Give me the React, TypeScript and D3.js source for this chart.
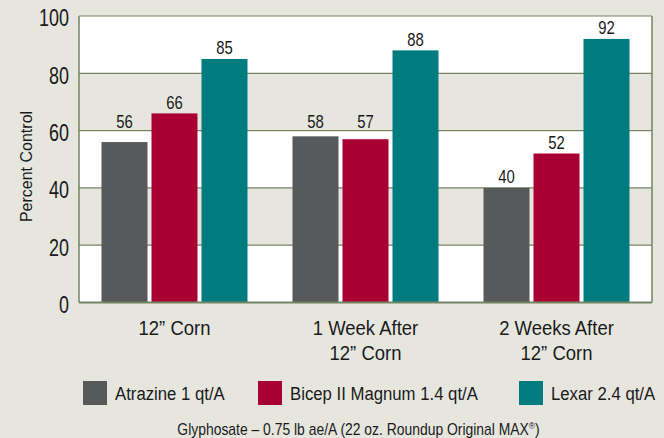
import React from "react";
import * as d3 from "d3";

const categories: string[][] = [["12\u201D Corn"], ["1 Week After", "12\u201D Corn"], ["2 Weeks After", "12\u201D Corn"]];
const categoryKeys = ["c1", "c2", "c3"];
const seriesNames = ["Atrazine 1 qt/A", "Bicep II Magnum 1.4 qt/A", "Lexar 2.4 qt/A"];
const seriesColors = ["#58595b", "#a90034", "#007b80"];
const atrazine = [56, 58, 40];
const bicep = [66, 57, 52];
const lexar = [85, 88, 92];
const yTicks = [0, 20, 40, 60, 80, 100];
const footnote = "Glyphosate \u2013 0.75 lb ae/A (22 oz. Roundup Original MAX";

const W = 664;
const H = 438;
const FONT = "'Liberation Sans', Arial, Helvetica, sans-serif";
const INK = "#1a1a1a";

type CTextProps = {
  x: number; y: number; sx?: number; size: number; anchor?: "start" | "middle" | "end";
  children?: React.ReactNode;
};
function CText({ x, y, sx = 1, size, anchor = "start", children }: CTextProps) {
  return (
    <text transform={`translate(${x},${y}) scale(${sx},1)`} fontSize={size} textAnchor={anchor} fill={INK}>
      {children}
    </text>
  );
}

export default function App() {
  const left = 79, right = 652, top = 16, bottom = 302.5;
  const values = [atrazine, bicep, lexar];
  const x0 = d3.scaleBand<string>().domain(categoryKeys).range([left, right]).padding(0);
  const x1 = d3.scaleBand<string>().domain(seriesNames).range([0, x0.bandwidth()]).paddingInner(0.08).paddingOuter(0.45);
  const y = d3.scaleLinear().domain([0, 100]).range([bottom, top]);
  const bgColor = "#e6e6df";
  const gridColor = "#738463";

  const gridYs = yTicks.filter(t => t > 0 && t < 100).map(t => y(t));
  const labelCap = 12.5;
  const labelBaseline = (v: number) => {
    let b = y(v) - 4.5;
    for (const g of gridYs) {
      if (g > b - labelCap - 1 && g < b + 2) b = g - 3;
    }
    return b;
  };

  const bands = [] as React.ReactElement[];
  for (let i = 0; i < yTicks.length - 1; i++) {
    const a = yTicks[i], b = yTicks[i + 1];
    const fill = i % 2 === 0 ? "#ffffff" : bgColor;
    bands.push(<rect key={"b" + i} x={left} y={y(b)} width={right - left} height={y(a) - y(b)} fill={fill} />);
  }

  const legendX = [83, 258, 519];

  return (
    <svg width={W} height={H} style={{ position: "absolute", left: 0, top: 0, display: "block" }} fontFamily={FONT}>
      <rect x={0} y={0} width={W} height={H} fill={bgColor} />
      {bands}
      {yTicks.filter(t => t > 0).map(t => (
        <line key={"g" + t} x1={left} x2={right} y1={y(t)} y2={y(t)} stroke={gridColor} strokeWidth={1.2} />
      ))}
      {categoryKeys.map((k, ci) =>
        seriesNames.map((s, si) => {
          const v = values[si][ci];
          const bx = (x0(k) as number) + (x1(s) as number);
          return (
            <g key={k + s}>
              <rect x={bx} y={y(v)} width={x1.bandwidth()} height={y(0) - y(v)} fill={seriesColors[si]} />
              <CText x={bx + x1.bandwidth() / 2} y={labelBaseline(v)} sx={0.85} size={17.5} anchor="middle">{v}</CText>
            </g>
          );
        })
      )}
      <line x1={left} x2={left} y1={top} y2={bottom} stroke={gridColor} strokeWidth={1.5} />
      <line x1={right} x2={right} y1={top} y2={bottom} stroke={gridColor} strokeWidth={1.5} />
      <line x1={left} x2={right} y1={bottom} y2={bottom} stroke={gridColor} strokeWidth={2.2} />
      {yTicks.map(t => (
        <CText key={"t" + t} x={69} y={y(t) + 10.3} sx={0.78} size={23} anchor="end">{t}</CText>
      ))}
      <text transform={`translate(32,166.5) rotate(-90)`} textAnchor="middle" fontSize={16} fill={INK}>Percent Control</text>
      {categoryKeys.map((k, ci) =>
        categories[ci].map((line, li) => (
          <CText key={"x" + k + li} x={(x0(k) as number) + x0.bandwidth() / 2} y={334.7 + li * 25.5} sx={0.88} size={21} anchor="middle">{line}</CText>
        ))
      )}
      {seriesNames.map((s, si) => (
        <g key={"l" + si}>
          <rect x={legendX[si]} y={381} width={24} height={24} fill={seriesColors[si]} />
          <CText x={legendX[si] + 32} y={400} sx={0.9} size={18.6}>{s}</CText>
        </g>
      ))}
      <CText x={358.5} y={434.5} sx={0.88} size={15.8} anchor="middle">
        {footnote}
        <tspan fontSize={9.5} dy={-6}>®</tspan>
        <tspan dy={6}>)</tspan>
      </CText>
    </svg>
  );
}
